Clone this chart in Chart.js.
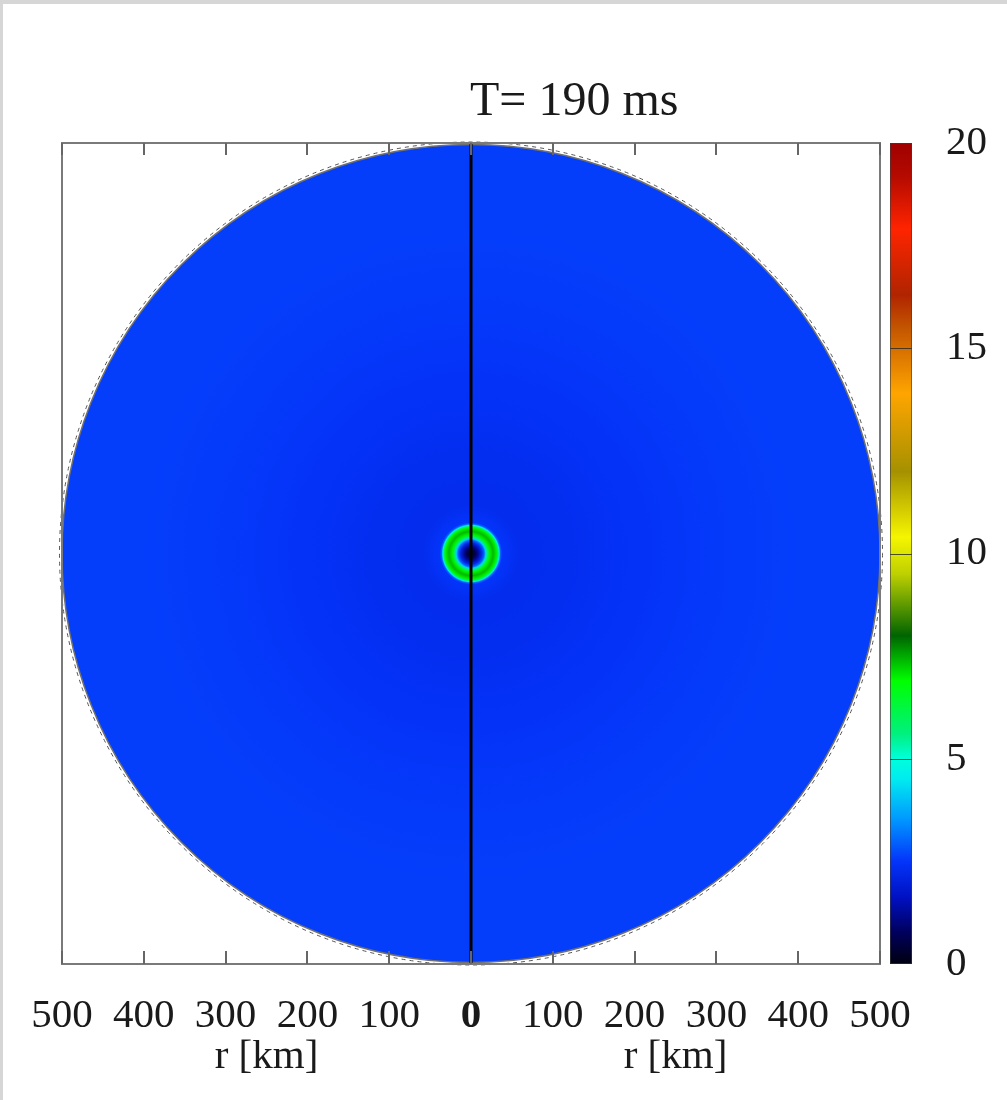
<!DOCTYPE html>
<html><head><meta charset="utf-8">
<script src="https://cdn.jsdelivr.net/npm/chart.js@4.4.1/dist/chart.umd.min.js"></script>
<style>
html,body{margin:0;padding:0;background:#fff;}
#wrap{position:relative;width:1007px;height:1100px;}
#frameTop{position:absolute;left:0;top:0;width:1007px;height:4px;background:#d6d6d6;}
#frameLeft{position:absolute;left:0;top:0;width:3px;height:1100px;background:#d6d6d6;}
</style></head><body>
<div id="wrap"><canvas id="c"></canvas><div id="frameTop"></div><div id="frameLeft"></div></div>
<script>
// ---- data ----
const titleText = 'T= 190 ms';
const axisTitle = 'r [km]';
const xTickValues = [-500,-400,-300,-200,-100,0,100,200,300,400,500];
const xTickLabels = ['500','400','300','200','100','0','100','200','300','400','500'];
const cbarTickValues = [0,5,10,15,20];
const cbarTickLabels = ['0','5','10','15','20'];
const diskRadiusKm = 500;
const fieldRadiusKm = [0, 5, 9, 13, 16, 18, 20, 23, 27, 31, 33, 34.5, 36, 38, 60, 120, 200, 300, 400, 500];
const fieldValue    = [0.3, 0.6, 1.3, 2.2, 3.0, 4.2, 5.8, 7.0, 7.4, 7.0, 6.0, 4.5, 3.0, 2.5, 2.3, 2.35, 2.45, 2.55, 2.6, 2.6];
const axisLineX = [0, 0];
const axisLineY = [-500, 500];
// colormap (value -> rgb)
const cmapStops  = [0, 0.8, 1.6, 2.5, 3.5, 4.5, 5, 5.6, 6.9, 8, 9.5, 10.4, 12, 13.9, 15.5, 16.3, 17.9, 19.2, 20];
const cmapColors = [[0,0,16],[0,0,96],[0,16,192],[4,52,250],[0,150,255],[0,235,240],[0,255,220],[0,240,128],[0,255,0],[0,100,0],[190,208,0],[245,245,0],[165,145,0],[255,165,0],[195,85,0],[176,36,0],[255,36,0],[180,10,0],[160,0,0]];

const FONT = '"Liberation Serif", "Times New Roman", serif';
const TXT = '#1a1a1a';

function cmap(v){
  if (v <= cmapStops[0]) return 'rgb(' + cmapColors[0].join(',') + ')';
  for (let i = 1; i < cmapStops.length; i++){
    if (v <= cmapStops[i]){
      const t = (v - cmapStops[i-1]) / (cmapStops[i] - cmapStops[i-1]);
      const a = cmapColors[i-1], b = cmapColors[i];
      return 'rgb(' + a.map((c,k)=>Math.round(c + (b[k]-c)*t)).join(',') + ')';
    }
  }
  return 'rgb(' + cmapColors[cmapColors.length-1].join(',') + ')';
}

const fieldPlugin = {
  id: 'field',
  beforeDatasetsDraw(chart){
    const {ctx, scales:{x, y}} = chart;
    const cx = x.getPixelForValue(0), cy = y.getPixelForValue(0);
    const R = x.getPixelForValue(diskRadiusKm) - cx;
    ctx.save();
    const g = ctx.createRadialGradient(cx, cy, 0, cx, cy, R);
    fieldRadiusKm.forEach((r,i)=> g.addColorStop(r/diskRadiusKm, cmap(fieldValue[i])));
    ctx.fillStyle = g;
    ctx.beginPath(); ctx.arc(cx, cy, R, 0, 2*Math.PI); ctx.fill();
    ctx.strokeStyle = '#707070'; ctx.lineWidth = 1.5; ctx.stroke();
    ctx.beginPath(); ctx.setLineDash([4,4]); ctx.arc(cx, cy, R + 2.5, 0, 2*Math.PI);
    ctx.strokeStyle = '#555'; ctx.lineWidth = 1; ctx.stroke();
    ctx.restore();
  },
  afterDatasetsDraw(chart){
    const {ctx, chartArea:a, scales:{x}} = chart;
    ctx.save();
    ctx.strokeStyle = '#7a7a7a'; ctx.lineWidth = 2;
    ctx.strokeRect(a.left, a.top, a.right - a.left, a.bottom - a.top);
    ctx.strokeStyle = '#666'; ctx.lineWidth = 2;
    xTickValues.forEach(v=>{
      const px = Math.round(x.getPixelForValue(v));
      ctx.beginPath();
      ctx.moveTo(px, a.bottom); ctx.lineTo(px, a.bottom - 13);
      ctx.moveTo(px, a.top); ctx.lineTo(px, a.top + 12);
      ctx.stroke();
    });
    ctx.restore();
  },
  afterDraw(chart){
    const {ctx, chartArea:a, scales:{x, cbar}} = chart;
    ctx.save();
    // colorbar
    const x0 = a.right + 10, w = 22;
    const top = cbar.getPixelForValue(cbar.max), bot = cbar.getPixelForValue(cbar.min);
    const g = ctx.createLinearGradient(0, bot, 0, top);
    cmapStops.forEach((s,i)=> g.addColorStop(s/cbar.max, cmap(s)));
    ctx.fillStyle = g;
    ctx.fillRect(x0, top, w, bot - top);
    ctx.strokeStyle = 'rgba(40,40,40,0.8)'; ctx.lineWidth = 1;
    cbarTickValues.slice(1, -1).forEach(v=>{
      const py = Math.round(cbar.getPixelForValue(v)) + 0.5;
      ctx.beginPath(); ctx.moveTo(x0, py); ctx.lineTo(x0 + w, py); ctx.stroke();
    });
    ctx.strokeStyle = 'rgba(60,60,60,0.6)';
    ctx.strokeRect(x0 + 0.5, top + 0.5, w - 1, bot - top - 1);
    // title
    ctx.fillStyle = TXT;
    ctx.font = '48px ' + FONT;
    ctx.textAlign = 'left'; ctx.textBaseline = 'middle';
    ctx.fillText(titleText, x.getPixelForValue(0) - 1, 102.5);
    // axis titles
    ctx.font = '41px ' + FONT;
    ctx.textAlign = 'center';
    ctx.fillText(axisTitle, x.getPixelForValue(-250), a.bottom + 93);
    ctx.fillText(axisTitle, x.getPixelForValue(250), a.bottom + 93);
    ctx.restore();
  }
};

new Chart(document.getElementById('c'), {
  type: 'scatter',
  data: {
    datasets: [{
      label: 'axis',
      data: axisLineX.map((v,i)=>({x: v, y: axisLineY[i]})),
      showLine: true,
      borderColor: '#000',
      borderWidth: 3,
      pointRadius: 0,
      fill: false
    }]
  },
  options: {
    animation: false,
    responsive: true,
    maintainAspectRatio: false,
    layout: { padding: { left: 62, right: 20, top: 143, bottom: 61 } },
    plugins: { legend: { display: false }, tooltip: { enabled: false }, title: { display: false } },
    scales: {
      x: {
        type: 'linear', position: 'bottom', min: -500, max: 500,
        afterBuildTicks: s => { s.ticks = xTickValues.map(v=>({value: v})); },
        afterFit: s => { s.height = 75; },
        ticks: {
          autoSkip: false, maxRotation: 0, padding: 28, color: TXT,
          callback: v => xTickLabels[xTickValues.indexOf(v)],
          font: c => ({ family: FONT, size: 41, weight: (c.tick && c.tick.value === 0) ? 'bold' : 'normal' })
        },
        grid: { display: false, drawTicks: false },
        border: { display: false }
      },
      y: { type: 'linear', min: -500, max: 500, display: false },
      cbar: {
        type: 'linear', position: 'right', min: 0, max: 20,
        afterBuildTicks: s => { s.ticks = cbarTickValues.map(v=>({value: v})); },
        afterFit: s => { s.width = 107; },
        ticks: {
          padding: 66, color: TXT,
          callback: v => cbarTickLabels[cbarTickValues.indexOf(v)],
          font: { family: FONT, size: 41 }
        },
        grid: { display: false, drawTicks: false },
        border: { display: false }
      }
    }
  },
  plugins: [fieldPlugin]
});
</script>
</body></html>
